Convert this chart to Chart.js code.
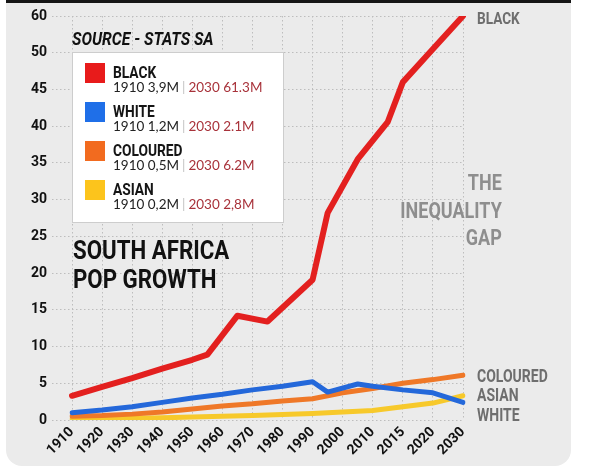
<!DOCTYPE html>
<html>
<head>
<meta charset="utf-8">
<script src="https://cdn.jsdelivr.net/npm/chart.js@4/dist/chart.umd.min.js"></script>
<style>
  html, body { margin: 0; padding: 0; background: #fff; }
  #wrap { position: relative; width: 591px; height: 469px; overflow: hidden; }
  #panel { position: absolute; left: 6px; top: 0; width: 565px; height: 463px;
           background: #ebebeb; border-top: 3px solid #151515; border-radius: 0 0 16px 16px; }
  canvas { position: absolute; left: 0; top: 0; }
  .cond { font-family: Roboto, 'Liberation Sans', sans-serif; font-weight: bold; position: absolute;
          white-space: nowrap; transform: scaleX(0.8); transform-origin: left top; }
  #source { left: 72px; top: 29.6px; font-size: 18.3px; line-height: 18.3px; font-style: italic; color: #111; transform: scaleX(0.86); }
  #title { left: 73px; top: 235.7px; font-size: 25.3px; line-height: 29px; color: #111; transform: scaleX(0.88); }
  #gap { left: 397px; width: 131px; top: 169px; font-size: 22.5px; line-height: 27.5px; color: #8e8e8e; text-align: right; }
  .end { left: 477px; line-height: 18px; color: #6e6e6e; }
  #legend { position: absolute; left: 72px; top: 52px; width: 210px; height: 169px;
            background: #fff; border: 1px solid #cdcdcd; }
  .sq { position: absolute; left: 12px; width: 20px; height: 20px; }
  .name { left: 40px; font-size: 16px; line-height: 16px; color: #151515; transform: scaleX(0.86); }
  .sub { position: absolute; left: 40px; font-family: Lato, 'Open Sans', sans-serif; font-size: 13.5px; line-height: 13.5px; color: #222; white-space: nowrap; }
  .sub .sep { color: #c4c4c4; margin: 0 3px; }
  .sub .late { color: #a8323a; }
</style>
</head>
<body>
<div id="wrap">
  <div id="panel"></div>
  <canvas id="chart" width="591" height="469"></canvas>
  <div id="source" class="cond">SOURCE - STATS SA</div>
  <div id="legend"></div>
  <div id="title" class="cond">SOUTH AFRICA<br>POP GROWTH</div>
  <div id="gap" class="cond">THE<br>INEQUALITY<br>GAP</div>
</div>
<script>
// categories run in half steps so the kinks of the lines can sit between the labelled years
const years = ['1910', '1915', '1920', '1925', '1930', '1935', '1940', '1945', '1950', '1955',
  '1960', '1965', '1970', '1975', '1980', '1985', '1990', '1995', '2000', '2005',
  '2010', '2013', '2015', '2018', '2020', '2025', '2030'];
const tickLabels = ['1910', '1920', '1930', '1940', '1950', '1960', '1970', '1980',
  '1990', '2000', '2010', '2015', '2020', '2030'];

// millions (the top gridline is labelled 60 but sits one step above 50)
const black = [3.3, null, 4.5, null, 5.7, null, 7.0, null, 8.2, 8.9,
  null, 14.2, null, 13.4, null, null, 19.1, 28.2, null, 35.5,
  null, 40.6, 46.0, null, 50.5, null, 55];
const white = [1.0, null, 1.35, null, 1.8, null, 2.4, null, 3.0, null,
  3.5, null, 4.1, null, 4.6, null, 5.2, 3.8, null, 4.9,
  4.6, null, 4.1, null, 3.7, null, 2.4];
const coloured = [0.5, null, 0.6, null, 0.8, null, 1.1, null, 1.5, null,
  1.9, null, 2.2, null, 2.6, null, 2.9, null, 3.7, null,
  4.3, null, 5.0, null, 5.5, null, 6.1];
const asian = [0.15, null, 0.2, null, 0.25, null, 0.3, null, 0.4, null,
  0.5, null, 0.6, null, 0.75, null, 0.9, null, 1.1, null,
  1.3, null, 1.8, null, 2.3, null, 3.3];

const seriesNames = ['BLACK', 'WHITE', 'COLOURED', 'ASIAN'];
const lineColors = ['#e3201f', '#2468da', '#ef7828', '#f7c92b'];
const boxColors = ['#e81b1b', '#1f6fe8', '#f26b1f', '#fcc41c'];
const pop1910 = ['3,9M', '1,2M', '0,5M', '0,2M'];
const pop2030 = ['61.3M', '2.1M', '6.2M', '2,8M'];
const endLabels = [['BLACK', 8.8, 17], ['COLOURED', 366.7, 17.5], ['ASIAN', 386.2, 17.5], ['WHITE', 405.7, 17.5]];

const gridColor = '#bdbdbd';
const tickFont = "Roboto, 'Liberation Sans', sans-serif";

// legend box
const legend = document.getElementById('legend');
seriesNames.forEach((name, i) => {
  const top = 10 + i * 39;
  legend.insertAdjacentHTML('beforeend',
    '<div class="sq" style="top:' + top + 'px;background:' + boxColors[i] + '"></div>' +
    '<div class="cond name" style="top:' + (top + 2) + 'px">' + name + '</div>' +
    '<div class="sub" style="top:' + (top + 18) + 'px">1910 ' + pop1910[i] +
    '<span class="sep">|</span><span class="late">2030 ' + pop2030[i] + '</span></div>');
});

const wrap = document.getElementById('wrap');
endLabels.forEach(([txt, top, size]) => {
  wrap.insertAdjacentHTML('beforeend',
    '<div class="cond end" style="top:' + top + 'px;font-size:' + size + 'px">' + txt + '</div>');
});

const values = [black, white, coloured, asian];

new Chart(document.getElementById('chart'), {
  type: 'line',
  data: {
    labels: years,
    datasets: seriesNames.map((name, i) => ({
      label: name,
      data: values[i],
      borderColor: lineColors[i],
      backgroundColor: lineColors[i],
      borderWidth: i === 0 ? 6 : 5,
      pointRadius: 0,
      tension: 0,
      spanGaps: true,
      borderCapStyle: 'round',
      borderJoinStyle: 'round'
    }))
  },
  options: {
    responsive: false,
    animation: false,
    layout: { padding: { left: 0, right: 128, top: 16, bottom: 0 } },
    plugins: { legend: { display: false }, tooltip: { enabled: false } },
    scales: {
      x: {
        type: 'category',
        afterFit: s => { s.height = 49; },
        border: { display: false, dash: [1.5, 2.5] },
        grid: {
          drawTicks: false,
          color: ctx => tickLabels.includes(years[ctx.index]) ? gridColor : 'rgba(0,0,0,0)'
        },
        ticks: {
          autoSkip: false,
          maxRotation: 45,
          minRotation: 45,
          padding: 4,
          color: '#111',
          font: { family: tickFont, size: 14, weight: 'bold' },
          callback: function (v) {
            const lab = this.getLabelForValue(v);
            return tickLabels.includes(lab) ? lab : '';
          }
        }
      },
      y: {
        min: 0,
        max: 55,
        afterFit: s => { s.width = 72; },
        border: { display: false, dash: [1.5, 2.5] },
        grid: { color: gridColor, tickLength: 20, tickBorderDash: [1.5, 2.5], tickColor: gridColor },
        ticks: {
          stepSize: 5,
          padding: 5,
          color: '#111',
          font: { family: tickFont, size: 14, weight: 'bold' },
          callback: v => (v === 55 ? '60' : v)
        }
      }
    }
  }
});
</script>
</body>
</html>
